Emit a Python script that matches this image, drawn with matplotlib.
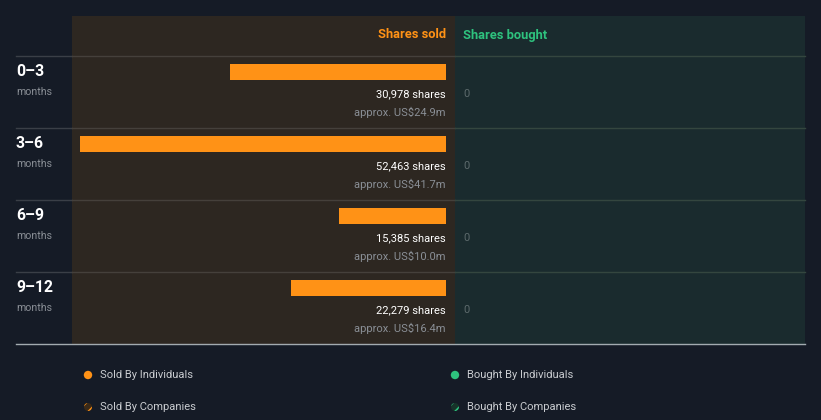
import matplotlib
matplotlib.use('Agg')
import matplotlib.pyplot as plt
import matplotlib.patches as patches

plt.rcParams['font.family'] = ['Roboto', 'DejaVu Sans']
plt.rcParams['hatch.linewidth'] = 1.5

# Data
periods = ['0\u20133', '3\u20136', '6\u20139', '9\u201312']
shares_sold = [30978, 52463, 15385, 22279]
sold_value = ['US$24.9m', 'US$41.7m', 'US$10.0m', 'US$16.4m']
shares_bought = [0, 0, 0, 0]

# Colours
BG = '#151b26'
SOLD_BG = '#2d2721'
BOUGHT_BG = '#1a2b2e'
ORANGE = '#ff9216'
GREEN = '#2ec27e'

W, H = 821, 420
fig = plt.figure(figsize=(W / 100, H / 100), dpi=100)
fig.patch.set_facecolor(BG)

# Overlay axes in pixel coordinates for panels and text
ax = fig.add_axes([0, 0, 1, 1])
ax.set_xlim(0, W)
ax.set_ylim(H, 0)
ax.axis('off')

top, header, row_h = 16, 56, 72
bottom = header + row_h * len(periods)
ax.add_patch(patches.Rectangle((72, top), 383, bottom - top, facecolor=SOLD_BG, edgecolor='none', zorder=0))
ax.add_patch(patches.Rectangle((455, top), 350, bottom - top, facecolor=BOUGHT_BG, edgecolor='none', zorder=0))

ax.text(446, 35, 'Shares sold', color=ORANGE, fontsize=9.3, fontweight='bold', ha='right', va='center')
ax.text(463, 35, 'Shares bought', color=GREEN, fontsize=9.3, fontweight='bold', ha='left', va='center')

for i in range(len(periods)):
    y0 = header + row_h * i
    ax.plot([16, 72], [y0, y0], color='#3a3f47', lw=1, zorder=1)
    ax.plot([72, 455], [y0, y0], color='#45403b', lw=1, zorder=1)
    ax.plot([455, 805], [y0, y0], color='#34463f', lw=1, zorder=1)
    ax.text(16, y0 + 15, periods[i], color='white', fontsize=11.3, fontweight='bold', ha='left', va='center')
    ax.text(16, y0 + 36, 'months', color='#8a8f96', fontsize=7.7, ha='left', va='center')
    ax.text(446, y0 + 38, f'{shares_sold[i]:,} shares', color='white', fontsize=8, ha='right', va='center')
    ax.text(446, y0 + 56, 'approx. ' + sold_value[i], color='#8a8f96', fontsize=8, ha='right', va='center')
    ax.text(463, y0 + 38, f'{shares_bought[i]}', color='#5d6a6c', fontsize=8, ha='left', va='center')
ax.plot([16, 805], [bottom, bottom], color='#a3abb0', lw=1, zorder=1)

# Bars axes (sold panel), value 0 at right edge
bax = fig.add_axes([72 / W, 1 - bottom / H, 383 / W, (bottom - top) / H])
bax.patch.set_alpha(0)
px_per_share = (446 - 80) / max(shares_sold)
bax.set_xlim((446 - 72) / px_per_share, (446 - 455) / px_per_share)
bax.set_ylim((bottom - 72) / row_h, (top - 72) / row_h)
bax.barh(range(len(periods)), shares_sold, height=16 / row_h, color=ORANGE, edgecolor='none')
bax.axis('off')

# Legend
leg_y = [375, 407]
ax.add_patch(patches.Circle((88, leg_y[0]), 4.2, facecolor=ORANGE, edgecolor='none'))
ax.add_patch(patches.Circle((455, leg_y[0]), 4.2, facecolor=GREEN, edgecolor='none'))
ax.add_patch(patches.Circle((88, leg_y[1]), 4, facecolor='#3a2a18', edgecolor=ORANGE, hatch='///', lw=0))
ax.add_patch(patches.Circle((455, leg_y[1]), 4, facecolor='#17332a', edgecolor=GREEN, hatch='///', lw=0))
ax.text(100, leg_y[0], 'Sold By Individuals', color='#c9ccd0', fontsize=8, ha='left', va='center')
ax.text(467, leg_y[0], 'Bought By Individuals', color='#c9ccd0', fontsize=8, ha='left', va='center')
ax.text(100, leg_y[1], 'Sold By Companies', color='#c9ccd0', fontsize=8, ha='left', va='center')
ax.text(467, leg_y[1], 'Bought By Companies', color='#c9ccd0', fontsize=8, ha='left', va='center')

fig.savefig('out.png', dpi=100, facecolor=BG)
